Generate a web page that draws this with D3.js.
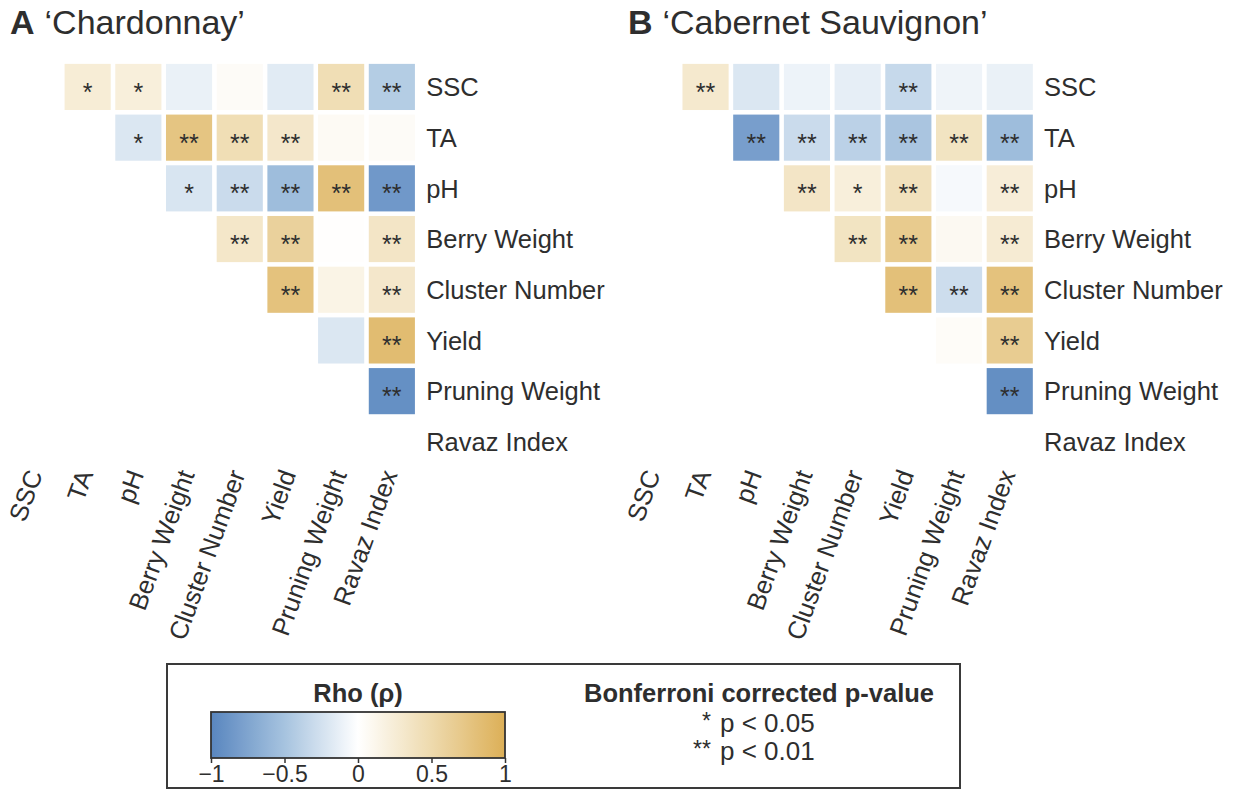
<!DOCTYPE html>
<html>
<head>
<meta charset="utf-8">
<script src="https://cdn.jsdelivr.net/npm/d3@7"></script>
<style>
  html, body { margin: 0; padding: 0; background: #ffffff; }
  svg { display: block; font-family: "Liberation Sans", Arial, Helvetica, sans-serif; }
</style>
</head>
<body>
<svg id="chart" width="1233" height="790"></svg>
<script>
// Trait names, shared by rows and columns of both correlation matrices
const variables = ["SSC", "TA", "pH", "Berry Weight", "Cluster Number", "Yield", "Pruning Weight", "Ravaz Index"];

// Spearman rho, upper triangle: row i lists columns i+1 .. 7
const chardonnayRho = [
  [0.25, 0.22, -0.12, 0.05, -0.17, 0.45, -0.42],
  [-0.2, 0.75, 0.45, 0.32, 0.07, 0.05],
  [-0.22, -0.3, -0.55, 0.8, -0.85],
  [0.33, 0.6, 0.01, 0.35],
  [0.78, 0.15, 0.32],
  [-0.2, 0.85],
  [-0.92]
];
const chardonnaySig = [
  ["*", "*", "", "", "", "**", "**"],
  ["*", "**", "**", "**", "", ""],
  ["*", "**", "**", "**", "**"],
  ["**", "**", "", "**"],
  ["**", "", "**"],
  ["", "**"],
  ["**"]
];

const cabernetRho = [
  [0.3, -0.2, -0.1, -0.14, -0.32, -0.09, -0.12],
  [-0.8, -0.3, -0.38, -0.48, 0.37, -0.55],
  [0.35, 0.22, 0.4, -0.05, 0.24],
  [0.37, 0.68, 0.08, 0.27],
  [0.8, -0.28, 0.78],
  [0.04, 0.66],
  [-0.93]
];
const cabernetSig = [
  ["**", "", "", "", "**", "", ""],
  ["**", "**", "**", "**", "**", "**"],
  ["**", "*", "**", "", "**"],
  ["**", "**", "", "**"],
  ["**", "**", "**"],
  ["", "**"],
  ["**"]
];

const panels = [
  { letter: "A", name: "\u2018Chardonnay\u2019", rho: chardonnayRho, sig: chardonnaySig, x0: 11.6 },
  { letter: "B", name: "\u2018Cabernet Sauvignon\u2019", rho: cabernetRho, sig: cabernetSig, x0: 629.5 }
];

const colorTicks = [-1, -0.5, 0, 0.5, 1];
const sigLegend = [["*", "p < 0.05"], ["**", "p < 0.01"]];

// Diverging blue - white - gold ramp
const color = d3.scaleLinear()
  .domain([-1, -0.5, 0, 0.5, 1])
  .range(["#5986bf", "#a6c3df", "#ffffff", "#eedaad", "#dcaf57"])
  .interpolate(d3.interpolateRgb);

const svg = d3.select("#chart");
svg.append("rect").attr("width", 1233).attr("height", 790).attr("fill", "#ffffff");

const textColor = "#2e2e2e";
const gridTop = 61.6;
const gridSize = 405.6;

panels.forEach(p => {
  const g = svg.append("g");
  const x = d3.scaleBand().domain(variables).range([p.x0, p.x0 + gridSize]).paddingInner(0.09).paddingOuter(0.045);
  const y = d3.scaleBand().domain(variables).range([gridTop, gridTop + gridSize]).paddingInner(0.09).paddingOuter(0.045);

  // upper-triangle cells of the matrix
  const cells = [];
  variables.forEach((rv, i) => {
    variables.forEach((cv, j) => {
      if (j > i) {
        cells.push({ row: rv, col: cv, rho: p.rho[i][j - i - 1], sig: p.sig[i][j - i - 1] });
      }
    });
  });

  g.selectAll("rect.cell").data(cells).join("rect")
    .attr("class", "cell")
    .attr("x", d => x(d.col)).attr("y", d => y(d.row))
    .attr("width", x.bandwidth()).attr("height", y.bandwidth())
    .attr("fill", d => color(d.rho));

  g.selectAll("text.sig").data(cells.filter(d => d.sig)).join("text")
    .attr("class", "sig")
    .attr("x", d => x(d.col) + x.bandwidth() / 2)
    .attr("y", d => y(d.row) + y.bandwidth() / 2 + 14)
    .attr("text-anchor", "middle")
    .attr("font-size", 25)
    .attr("fill", textColor)
    .text(d => d.sig);

  // row labels on the right
  g.selectAll("text.rowlab").data(variables).join("text")
    .attr("class", "rowlab")
    .attr("x", p.x0 + gridSize + 9)
    .attr("y", d => y(d) + y.bandwidth() / 2)
    .attr("dy", "0.36em")
    .attr("font-size", 25.5)
    .attr("fill", textColor)
    .text(d => d);

  // slanted column labels under the grid
  g.selectAll("text.collab").data(variables).join("text")
    .attr("class", "collab")
    .attr("transform", d => `translate(${x(d) + x.bandwidth() / 2 + 6},474) rotate(-70)`)
    .attr("text-anchor", "end")
    .attr("font-size", 25.5)
    .attr("fill", textColor)
    .text(d => d);

  // panel title
  const t = g.append("text")
    .attr("x", p.x0 - 1.6)
    .attr("y", 34)
    .attr("font-size", 34)
    .attr("fill", textColor);
  t.append("tspan").attr("font-weight", "bold").text(p.letter);
  t.append("tspan").attr("dx", 10).text(p.name);
});

// ---- legend ----
const lg = svg.append("g");
lg.append("rect")
  .attr("x", 167).attr("y", 664).attr("width", 793).attr("height", 124)
  .attr("fill", "none").attr("stroke", "#3a3a3a").attr("stroke-width", 2);

const barX = d3.scaleLinear().domain([-1, 1]).range([211, 505]);
const defs = svg.append("defs");
const grad = defs.append("linearGradient").attr("id", "rhoGrad")
  .attr("x1", "0%").attr("x2", "100%").attr("y1", "0%").attr("y2", "0%");
d3.range(0, 21).forEach(k => {
  const v = -1 + k * 0.1;
  grad.append("stop").attr("offset", `${k * 5}%`).attr("stop-color", color(v));
});

lg.append("text")
  .attr("x", barX(0)).attr("y", 702)
  .attr("text-anchor", "middle")
  .attr("font-size", 25.5).attr("font-weight", "bold").attr("fill", textColor)
  .text("Rho (\u03C1)");

lg.append("rect")
  .attr("x", barX(-1)).attr("y", 712)
  .attr("width", barX(1) - barX(-1)).attr("height", 46)
  .attr("fill", "url(#rhoGrad)")
  .attr("stroke", "#333333").attr("stroke-width", 1.8);

const axis = lg.append("g")
  .attr("transform", "translate(0,758)")
  .call(d3.axisBottom(barX).tickValues(colorTicks).tickSize(5).tickPadding(3).tickFormat(d3.format("")));
axis.select(".domain").remove();
axis.selectAll(".tick line").attr("stroke", "#333333").attr("stroke-width", 1.5);
axis.selectAll(".tick text")
  .attr("font-size", 23).attr("fill", textColor)
  .attr("font-family", "Liberation Sans, Arial, sans-serif");

lg.append("text")
  .attr("x", 759).attr("y", 702)
  .attr("text-anchor", "middle")
  .attr("font-size", 25.5).attr("font-weight", "bold").attr("fill", textColor)
  .text("Bonferroni corrected p-value");

lg.selectAll("text.sigstar").data(sigLegend).join("text")
  .attr("class", "sigstar")
  .attr("x", 711).attr("y", (d, i) => 729 + i * 28)
  .attr("text-anchor", "end")
  .attr("font-size", 23).attr("fill", textColor)
  .text(d => d[0]);

lg.selectAll("text.sigtext").data(sigLegend).join("text")
  .attr("class", "sigtext")
  .attr("x", 720).attr("y", (d, i) => 732 + i * 28)
  .attr("font-size", 26).attr("fill", textColor)
  .text(d => d[1]);
</script>
</body>
</html>
